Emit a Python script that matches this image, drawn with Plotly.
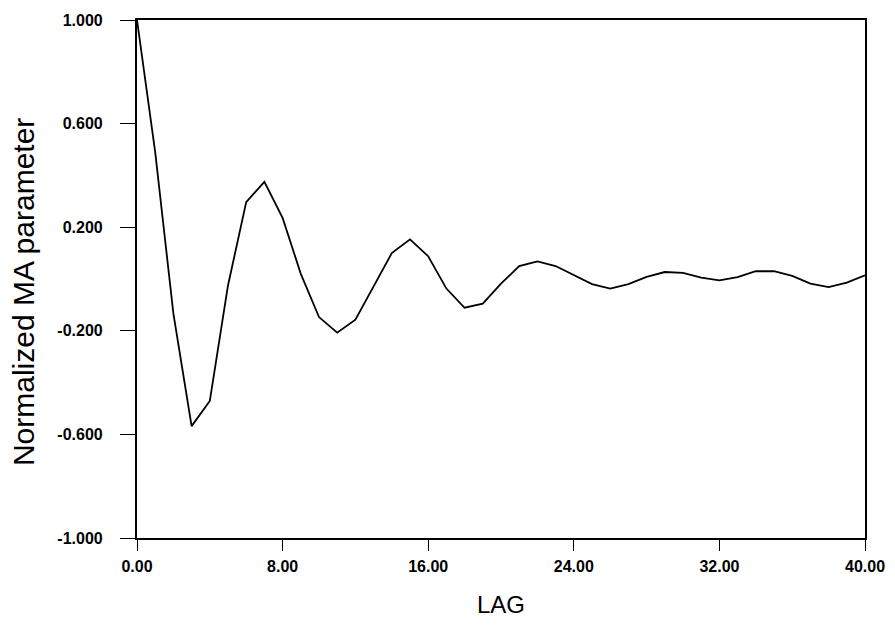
import plotly.graph_objects as go

lags = list(range(0, 41))
ma_values = [1.000, 0.490, -0.134, -0.568, -0.471, -0.025, 0.297, 0.375, 0.236, 0.020,
             -0.147, -0.207, -0.157, -0.028, 0.100, 0.153, 0.088, -0.037, -0.111, -0.095,
             -0.018, 0.050, 0.068, 0.050, 0.014, -0.020, -0.037, -0.020, 0.008, 0.027,
             0.024, 0.005, -0.005, 0.007, 0.030, 0.030, 0.012, -0.018, -0.031, -0.014,
             0.014]
x_ticks = [0, 8, 16, 24, 32, 40]
y_ticks = [-1.0, -0.6, -0.2, 0.2, 0.6, 1.0]

fig = go.Figure()
fig.add_trace(go.Scatter(x=lags, y=ma_values, mode="lines",
                         line=dict(color="black", width=1.8), showlegend=False))

font = "Liberation Sans, Arial, Helvetica, sans-serif"
tick_font = dict(size=16, family=font, weight="bold", color="black")
fig.update_layout(
    width=887, height=622,
    margin=dict(l=129, r=30, t=12, b=92, autoexpand=False),
    paper_bgcolor="white", plot_bgcolor="white",
    font=dict(family=font, color="black"),
)
fig.update_xaxes(
    range=[0, 40], tickvals=x_ticks, ticktext=[f"{v:.2f}" for v in x_ticks],
    ticks="outside", ticklen=11, tickwidth=1.3, tickcolor="black",
    showgrid=False, zeroline=False, automargin=False,
    showline=True, linecolor="black", linewidth=2.2, mirror=True,
    tickfont=tick_font, ticklabelstandoff=2,
)
fig.update_yaxes(
    range=[-1, 1], tickvals=y_ticks, ticktext=[f"{v:.3f}" for v in y_ticks],
    ticks="outside", ticklen=15, tickwidth=1.3, tickcolor="black",
    showgrid=False, zeroline=False, automargin=False,
    showline=True, linecolor="black", linewidth=2.2, mirror=True,
    tickfont=tick_font, ticklabelstandoff=14,
)
fig.add_annotation(text="Normalized MA parameter", xref="paper", yref="paper",
                   x=-0.155, y=0.475, xanchor="center", yanchor="middle",
                   textangle=-90, showarrow=False,
                   font=dict(size=30, family=font, color="black"))
fig.add_annotation(text="LAG", xref="paper", yref="paper",
                   x=0.5, y=-0.129, xanchor="center", yanchor="middle",
                   showarrow=False,
                   font=dict(size=24, family=font, color="black"))

fig.write_html("out.html")
